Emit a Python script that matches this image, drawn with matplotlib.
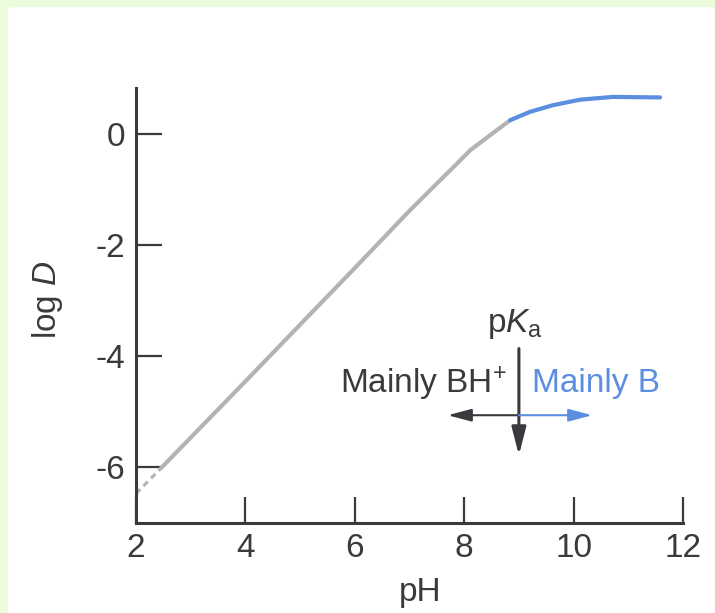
import matplotlib
matplotlib.use("Agg")
import matplotlib.pyplot as plt
from matplotlib.patches import Rectangle

# values
ph_dashed = [2.0, 2.45]
logd_dashed = [-6.47, -6.02]

ph_gray = [2.45, 4.0, 6.0, 7.0, 7.56, 7.85, 8.11, 8.5, 8.84]
logd_gray = [-6.02, -4.45, -2.41, -1.38, -0.83, -0.55, -0.29, 0.0, 0.25]

ph_blue = [8.84, 9.2, 9.62, 10.12, 10.72, 11.58]
logd_blue = [0.25, 0.40, 0.52, 0.62, 0.67, 0.66]

x_ticks = [2, 4, 6, 8, 10, 12]
y_ticks = [0, -2, -4, -6]
y_tick_labels = ["0", "-2", "-4", "-6"]
pka = 9.0

dark = "#3a3a3e"
gray = "#b3b3b5"
blue = "#5b8ee0"

plt.rcParams.update(
    {
        "font.family": ["Liberation Sans", "DejaVu Sans"],
        "font.size": 24,
        "mathtext.fontset": "custom",
        "mathtext.rm": "Liberation Sans",
        "mathtext.it": "Liberation Sans:italic",
        "text.color": dark,
    }
)

fig = plt.figure(figsize=(7.15, 6.13), dpi=100)
fig.patch.set_facecolor("white")
fig.patches.append(Rectangle((0, 1 - 6 / 613), 1, 6 / 613, transform=fig.transFigure,
                             color="#ebfcdd", zorder=0))
fig.patches.append(Rectangle((0, 0), 7 / 715, 1, transform=fig.transFigure,
                             color="#ebfcdd", zorder=0))

ax = fig.add_axes([136 / 715, 90 / 613, 547 / 715, 435 / 613])
ax.set_xlim(2, 12)
ax.set_ylim(-7, 0.83)

ax.plot(ph_dashed, logd_dashed, color=gray, lw=2.2, ls=(0, (2, 1.5)), solid_capstyle="butt")
ax.plot(ph_gray, logd_gray, color=gray, lw=3.0, solid_capstyle="round")
ax.plot(ph_blue, logd_blue, color=blue, lw=3.0, solid_capstyle="round")

for side in ["top", "right"]:
    ax.spines[side].set_visible(False)
for side in ["left", "bottom"]:
    ax.spines[side].set_color(dark)
    ax.spines[side].set_linewidth(2.2)

ax.set_xticks(x_ticks)
ax.set_yticks(y_ticks)
ax.set_yticklabels(y_tick_labels)
ax.tick_params(axis="both", direction="in", length=19, width=1.6, color=dark,
               labelcolor=dark, labelsize=24)
ax.tick_params(axis="x", pad=7)
ax.tick_params(axis="y", pad=8)

ax.set_xlabel("pH", fontsize=24, color=dark)
ax.xaxis.set_label_coords(0.519, -0.125)
ax.set_ylabel("log $\\mathit{D}$", fontsize=24, color=dark)
ax.yaxis.set_label_coords(-0.13, 0.513)

# pKa annotation
ax.text(8.93, -3.42, "p$K_\\mathrm{a}$", ha="center", va="center", fontsize=24, color=dark)
ax.text(8.78, -4.49, "Mainly BH$^{+}$", ha="right", va="center", fontsize=24, color=dark)
ax.text(9.24, -4.49, "Mainly B", ha="left", va="center", fontsize=24, color=blue)
ax.annotate("", xy=(pka, -5.78), xytext=(pka, -3.86),
            arrowprops=dict(arrowstyle="-|>,head_length=0.7,head_width=0.18", color=dark, lw=2.2,
                            shrinkA=0, shrinkB=0))
ax.annotate("", xy=(7.7, -5.06), xytext=(pka, -5.06),
            arrowprops=dict(arrowstyle="-|>,head_length=0.6,head_width=0.16", color=dark, lw=1.5,
                            shrinkA=0, shrinkB=0))
ax.annotate("", xy=(10.34, -5.06), xytext=(pka, -5.06),
            arrowprops=dict(arrowstyle="-|>,head_length=0.6,head_width=0.16", color=blue, lw=1.5,
                            shrinkA=0, shrinkB=0))

fig.savefig("out.png", dpi=100)
